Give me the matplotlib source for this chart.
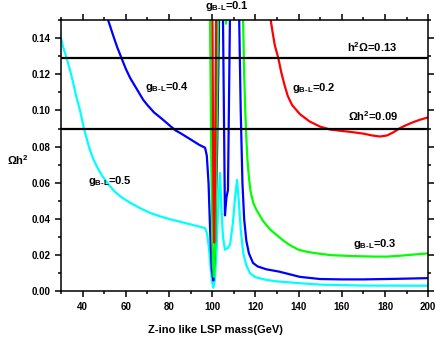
import numpy as np
import matplotlib
matplotlib.use("Agg")
import matplotlib.pyplot as plt
from matplotlib.ticker import MultipleLocator, FormatStrFormatter

plt.rcParams['font.family'] = 'Liberation Sans'
plt.rcParams['font.weight'] = 'bold'
plt.rcParams['mathtext.fontset'] = 'custom'
plt.rcParams['mathtext.rm'] = 'Liberation Sans:bold'
plt.rcParams['mathtext.bf'] = 'Liberation Sans:bold'
plt.rcParams['mathtext.it'] = 'Liberation Sans:bold'
plt.rcParams['mathtext.default'] = 'rm'

# ---- data (mass in GeV, relic density) ----
# g_B-L = 0.5
cyan_x = [30, 31, 32.6, 34, 35.5, 37, 38.8, 40.6, 42, 43.4, 45, 47, 49, 52, 55, 58,
          62, 66.6, 71, 75.8, 80, 85.1, 90, 94, 96.7, 97.6, 98.5, 99.2, 99.8, 100.5,
          101.2, 102, 102.8, 103.6, 104.3, 105.0, 105.9, 107.3, 108.3, 109.6, 110.6,
          111.5, 112.3, 113.3, 114.4, 115.8, 117.5, 120, 125.2, 130, 140.6, 150, 170, 200]
cyan_y = [0.140, 0.135, 0.129, 0.123, 0.116, 0.108, 0.100, 0.090, 0.084, 0.078, 0.073,
          0.068, 0.064, 0.059, 0.055, 0.052, 0.049, 0.046, 0.0435, 0.0415, 0.040,
          0.0385, 0.0370, 0.0358, 0.0349, 0.032, 0.024, 0.014, 0.006, 0.002, 0.006,
          0.022, 0.048, 0.0655, 0.045, 0.030, 0.023, 0.024, 0.026, 0.038, 0.052,
          0.0616, 0.050, 0.033, 0.021, 0.0145, 0.010, 0.0078, 0.0063, 0.0055, 0.0045,
          0.0037, 0.0032, 0.0031]

# g_B-L = 0.4
blue_x = [51.8, 54, 56, 58, 60, 62, 64, 66, 68, 70, 73, 76.6, 80.5, 83, 85.1, 90, 94,
          96.7, 97.5, 98.3, 99.0, 99.8, 100.5, 101.3, 102.3, 103.3, 104.2, 105.0,
          105.9, 106.6, 107.3, 108.2, 109, 111.8, 112.5, 113.2, 114.0, 114.8, 115.8,
          117, 118.9, 121, 125, 131, 140.6, 150, 160, 170, 185, 200]
blue_y = [0.15, 0.142, 0.135, 0.129, 0.123, 0.118, 0.114, 0.110, 0.106, 0.103, 0.099,
          0.0955, 0.0915, 0.089, 0.0876, 0.0840, 0.0810, 0.0794, 0.075, 0.060, 0.035,
          0.012, 0.006, 0.025, 0.08, 0.16, 0.30, 0.15, 0.042, 0.052, 0.056, 0.15, 0.30,
          0.30, 0.15, 0.10, 0.060, 0.040, 0.028, 0.021, 0.0157, 0.0138, 0.0122, 0.0109,
          0.0080, 0.0068, 0.0066, 0.0066, 0.0069, 0.0073]

# g_B-L = 0.3
green_x = [98.5, 99.0, 99.6, 100.3, 100.8, 101.5, 102.2, 102.7, 103.5, 105.6, 106.4,
           107.2, 109, 113.8, 114.3, 114.8, 115.3, 115.8, 116.3, 117, 117.8, 119, 120.5,
           122, 123.5, 125.2, 127, 130, 133, 136, 140, 144, 148.5, 155, 165, 175, 181,
           186, 190, 195, 200]
green_y = [0.30, 0.15, 0.07, 0.015, 0.008, 0.03, 0.10, 0.15, 0.25, 0.20, 0.148, 0.20,
           0.30, 0.30, 0.15, 0.12, 0.10, 0.085, 0.073, 0.063, 0.055, 0.049, 0.045, 0.042,
           0.039, 0.0365, 0.034, 0.031, 0.028, 0.0255, 0.023, 0.0218, 0.021, 0.020,
           0.0195, 0.0192, 0.0192, 0.0196, 0.020, 0.0205, 0.021]

# g_B-L = 0.2
red_x = [99.5, 100.1, 100.5, 100.9, 101.3, 101.8, 102.3, 110, 120, 125.5, 127.1, 128,
         129, 130.6, 132, 133.5, 135, 137, 140.6, 145, 149.9, 154.5, 159.2, 163.8, 170,
         174, 177.7, 181, 184, 187, 190, 193, 196, 200]
red_y = [0.30, 0.15, 0.06, 0.027, 0.06, 0.15, 0.30, 0.40, 0.40, 0.18, 0.15, 0.143,
         0.136, 0.129, 0.121, 0.114, 0.108, 0.103, 0.0980, 0.0940, 0.0911, 0.0895,
         0.0888, 0.0882, 0.0872, 0.0862, 0.0856, 0.0862, 0.0880, 0.0903, 0.0920,
         0.0935, 0.0948, 0.0962]

wmap_upper = 0.129
wmap_lower = 0.09

fig = plt.figure(figsize=(4.36, 3.46), dpi=100)
ax = fig.add_axes([0.140, 0.158, 0.842, 0.784])

lw = 1.6
ax.plot(cyan_x, cyan_y, color="#00FFFF", lw=lw)
ax.plot(blue_x, blue_y, color="#0000FF", lw=lw)
ax.plot(green_x, green_y, color="#00FF00", lw=lw)
ax.plot(red_x, red_y, color="#FF0000", lw=lw)
ax.axhline(wmap_upper, color="black", lw=1.6, zorder=5)
ax.axhline(wmap_lower, color="black", lw=1.6, zorder=5)

ax.set_xlim(30, 200)
ax.set_ylim(0, 0.15)
ax.set_xticks([40, 60, 80, 100, 120, 140, 160, 180, 200])
ax.xaxis.set_minor_locator(MultipleLocator(10))
ax.yaxis.set_major_locator(MultipleLocator(0.02))
ax.yaxis.set_minor_locator(MultipleLocator(0.01))
ax.yaxis.set_major_formatter(FormatStrFormatter('%.2f'))
ax.tick_params(which="both", direction="out", top=True, right=True, width=1.1,
               labelsize=7)
ax.tick_params(which="major", length=4)
ax.tick_params(which="minor", length=2.5)
for s in ax.spines.values():
    s.set_linewidth(1.1)

fs = 8
ax.text(68.9, 0.113, r'g$_{\rm B\text{-}L}$=0.4', fontsize=fs, va="center")
ax.text(136.8, 0.1123, r'g$_{\rm B\text{-}L}$=0.2', fontsize=fs, va="center")
ax.text(165.2, 0.0262, r'g$_{\rm B\text{-}L}$=0.3', fontsize=fs, va="center")
ax.text(42.5, 0.061, r'g$_{\rm B\text{-}L}$=0.5', fontsize=fs, va="center")
ax.text(96.7, 0.158, r'g$_{\rm B\text{-}L}$=0.1', fontsize=fs, va="center", clip_on=False)
ax.text(162.3, 0.135, r'h$^2\Omega$=0.13', fontsize=fs, va="center")
ax.text(162.9, 0.097, r'$\Omega$h$^2$=0.09', fontsize=fs, va="center")

fig.text(18 / 436, 1 - 160 / 346, r'$\Omega$h$^2$', fontsize=fs, ha="center", va="center")
fig.text(215 / 436, 1 - 330 / 346, "Z-ino like LSP mass(GeV)", fontsize=fs,
         ha="center", va="center")

fig.savefig("out.png", dpi=100)
